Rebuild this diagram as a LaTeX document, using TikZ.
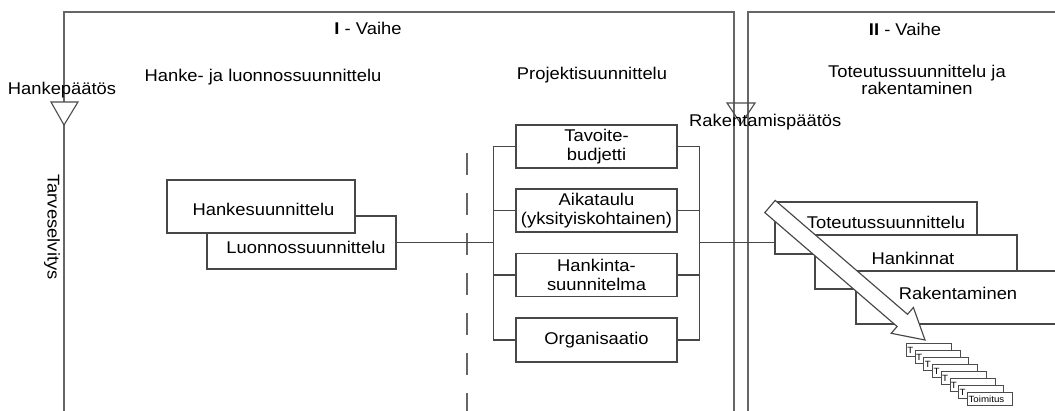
\documentclass[tikz,border=0pt]{standalone}
\usepackage{fontspec}
\setmainfont[FakeStretch=1.08]{Liberation Sans}
\begin{document}
\begin{tikzpicture}[x=1pt,y=-1pt,
  frame/.style={draw=black!60,line width=1.2pt},
  conn/.style={draw=black!72,line width=1.15pt},
  box/.style={draw=black!72,line width=1.15pt,fill=white,inner sep=0pt,align=center,font=\fontsize{17}{19}\selectfont},
  lbl/.style={inner sep=0pt,anchor=base,font=\fontsize{17}{19}\selectfont},
  tri/.style={draw=black!70,line width=1.1pt},
  small/.style={draw=black!70,line width=0.8pt,fill=white,minimum width=45pt,minimum height=13pt,inner sep=0pt,anchor=north west},
  smalltxt/.style={anchor=west,inner sep=0pt,font=\fontsize{9}{9}\selectfont}
]
\useasboundingbox (0,0) rectangle (1055,411);
\fill[white] (0,0) rectangle (1055,411);

% phase frame
\draw[frame] (64,411) -- (64,12) -- (734,12) -- (734,411);
\draw[frame] (748,411) -- (748,12) -- (1055,12);

% decision triangles
\draw[tri,fill=white] (51,102) -- (78,102) -- (64,125) -- cycle;
\draw[tri] (727,103) -- (755,103) -- (741,124) -- cycle;

% titles
\node[lbl] (v1) at (368,35) {\textbf{I} - Vaihe};
\node[lbl] (v2) at (905,36) {\textbf{II} - Vaihe};
\node[lbl] (t1) at (263,82) {Hanke- ja luonnossuunnittelu};
\node[lbl] (t2) at (592,80) {Projektisuunnittelu};
\node[lbl] (t3a) at (917,78) {Toteutussuunnittelu ja};
\node[lbl] (t3b) at (917,95) {rakentaminen};
\node[lbl] (hp) at (62,95) {Hankepäätös};
\node[lbl,anchor=base west] (rp) at (689,127) {Rakentamispäätös};
\node[lbl,rotate=-90,anchor=center] (tv) at (52,227) {Tarveselvitys};

% dashed divider
\draw[draw=black!60,line width=1.2pt,dash pattern=on 22pt off 18pt] (467,153) -- (467,411);

% left boxes
\node[box,minimum width=189pt,minimum height=53pt] (luon) at (301.5,242.5) {};
\node[lbl] (luonT) at (306,254) {Luonnossuunnittelu};
\node[box,minimum width=188pt,minimum height=53pt] (hanke) at (261,206.5) {};
\node[lbl] (hankeT) at (263.5,216) {Hankesuunnittelu};

% project planning boxes
\node[box,minimum width=161pt,minimum height=43pt] (b1) at (596.5,146.5) {Tavoite-\\budjetti};
\node[box,minimum width=161pt,minimum height=43pt] (b2) at (596.5,210.5) {Aikataulu\\(yksityiskohtainen)};
\node[box,minimum width=161pt,minimum height=43pt] (b3) at (596.5,275) {Hankinta-\\suunnitelma};
\node[box,minimum width=161pt,minimum height=44pt] (b4) at (596.5,340) {Organisaatio};

% brackets
\coordinate (lbm) at (494,242.5);
\coordinate (rbm) at (699,242.5);
\draw[conn] (b1.west) -- ++(-22,0) |- (b4.west);
\draw[conn] (b2.west) -- ++(-22,0);
\draw[conn] (b3.west) -- ++(-22,0);
\draw[conn] (b1.east) -- ++(22,0) |- (b4.east);
\draw[conn] (b2.east) -- ++(22,0);
\draw[conn] (b3.east) -- ++(22,0);
\draw[conn] (luon.east) -- (lbm);

% phase II boxes
\node[box,minimum width=202pt,minimum height=52pt] (tot) at (876,228) {};
\node[lbl] (totT) at (886,229) {Toteutussuunnittelu};
\node[box,minimum width=202pt,minimum height=54pt] (hank) at (916,262) {};
\node[lbl] (hankT) at (913,265) {Hankinnat};
\node[box,minimum width=202pt,minimum height=53pt] (rak) at (957,297.5) {};
\node[lbl] (rakT) at (958,300) {Rakentaminen};
\draw[conn] (rbm) -- (rbm -| tot.west);

% big hollow arrow
\draw[conn,fill=white] (764.8,212.6) -- (897.1,326.5) -- (891.2,333.3) -- (925,340)
  -- (913.4,307.5) -- (907.5,314.3) -- (775.2,200.4) -- cycle;

% stacked deliveries
\foreach \i in {0,...,6}{
  \node[small] (s\i) at (906+8.7*\i,343+7*\i) {};
  \node[smalltxt] (st\i) at ([xshift=1.2pt,yshift=-0.5pt]s\i.west) {T};
}
\node[small] (s7) at (966.9,392) {};
\node[smalltxt] (st7) at ([xshift=1.5pt]s7.west) {Toimitus};
\end{tikzpicture}
\end{document}
